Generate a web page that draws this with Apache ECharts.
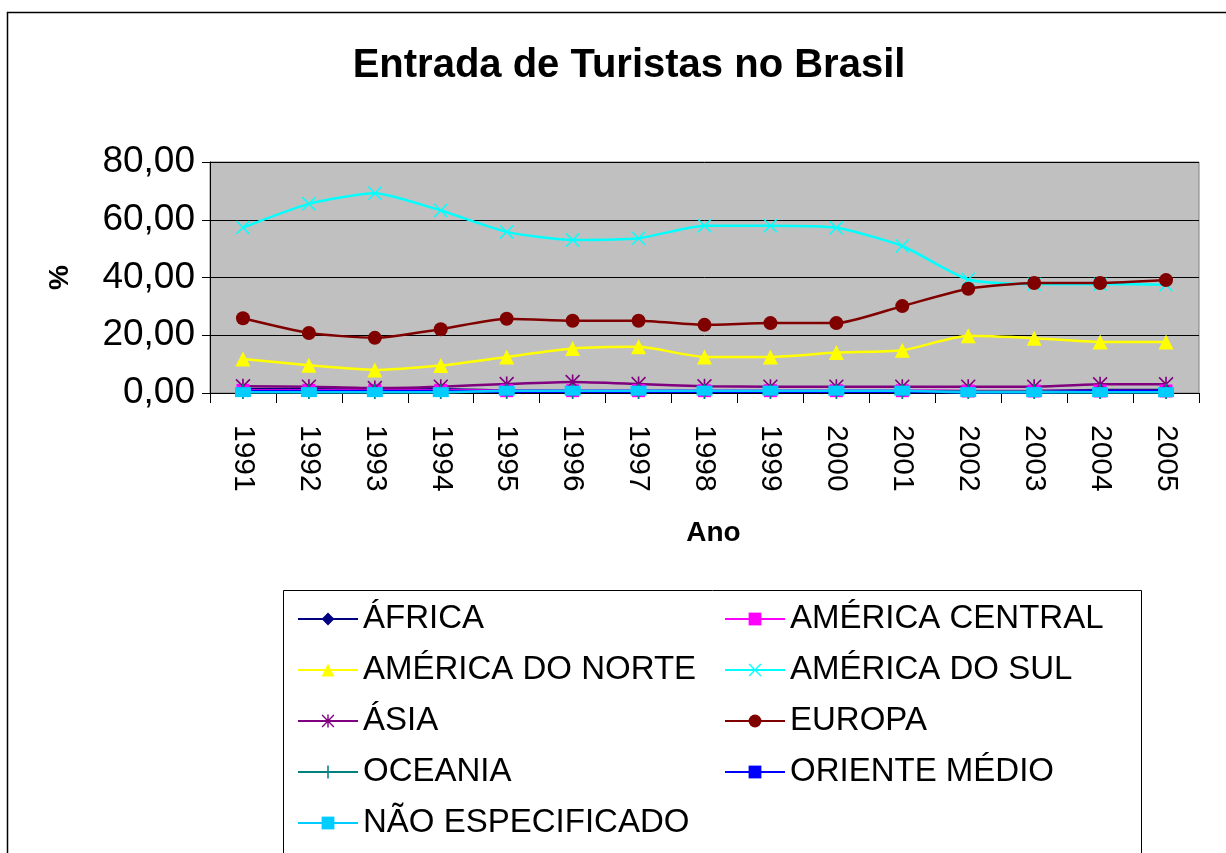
<!DOCTYPE html>
<html>
<head>
<meta charset="utf-8">
<script src="https://cdn.jsdelivr.net/npm/echarts@6/dist/echarts.min.js"></script>
<style>
html,body{margin:0;padding:0;background:#fff;}
#chart{width:1226px;height:853px;}
</style>
</head>
<body>
<div id="chart"></div>
<script>
var years = ['1991','1992','1993','1994','1995','1996','1997','1998','1999','2000','2001','2002','2003','2004','2005'];
var yTicks = [0, 20, 40, 60, 80];

var africa          = [1.3,1.3,1.2,1.3,0.9,0.8,0.8,0.7,0.7,0.7,0.7,0.6,0.7,1.0,1.0];
var americaCentral  = [0.9,0.9,0.9,0.9,0.8,0.8,0.8,0.8,0.8,0.8,0.8,0.7,0.7,0.7,0.7];
var americaNorte    = [11.8,9.6,8.0,9.5,12.5,15.4,16.0,12.5,12.5,14.0,14.8,19.8,19.0,17.7,17.7];
var americaSul      = [57.3,65.5,69.2,63.2,55.8,53.0,53.6,57.9,57.9,57.2,50.9,39.3,37.7,37.7,37.5];
var asia            = [2.3,2.2,1.7,2.2,3.1,3.8,3.1,2.3,2.2,2.2,2.2,2.2,2.2,3.0,3.0];
var europa          = [25.9,20.8,19.1,22.1,25.7,25.0,25.0,23.6,24.2,24.2,30.1,36.1,38.1,38.1,39.1];
var oceania         = [0.5,0.5,0.5,0.5,0.5,0.5,0.5,0.5,0.5,0.5,0.5,0.5,0.5,0.5,0.5];
var orienteMedio    = [0.6,0.6,0.6,0.6,0.4,0.4,0.4,0.4,0.4,0.4,0.4,0.3,0.3,0.6,0.6];
var naoEspecificado = [0.3,0.3,0.3,0.3,0.8,0.8,0.8,0.8,0.8,0.8,0.8,0.3,0.3,0.3,0.3];

var names = ['ÁFRICA','AMÉRICA CENTRAL','AMÉRICA DO NORTE','AMÉRICA DO SUL','ÁSIA','EUROPA','OCEANIA','ORIENTE MÉDIO','NÃO ESPECIFICADO'];
var seriesData = [africa, americaCentral, americaNorte, americaSul, asia, europa, oceania, orienteMedio, naoEspecificado];

var X_PATH = 'path://M0,1.5L1.5,0L20,18.5L18.5,20Z M18.5,0L20,1.5L1.5,20L0,18.5Z';
var AST_PATH = 'path://M0,1.5L1.5,0L20,18.5L18.5,20Z M18.5,0L20,1.5L1.5,20L0,18.5Z M8.9,0H11.1V20H8.9Z';
var PLUS_PATH = 'path://M8.8,0H11.2V8.8H20V11.2H11.2V20H8.8V11.2H0V8.8H8.8Z';

var styles = [
  {color:'#000080', symbol:'diamond', size:10},
  {color:'#FF00FF', symbol:'rect', size:13},
  {color:'#FFFF00', symbol:'triangle', size:15},
  {color:'#00FFFF', symbol:X_PATH, size:14},
  {color:'#800080', symbol:AST_PATH, size:15},
  {color:'#800000', symbol:'circle', size:14},
  {color:'#008080', symbol:PLUS_PATH, size:15},
  {color:'#0000FF', symbol:'rect', size:7},
  {color:'#00CCFF', symbol:'rect', size:[16,10]}
];

var FONT = '"Liberation Sans", Arial, Helvetica, sans-serif';

var series = names.map(function(n, i){
  return {
    name: n,
    type: 'line',
    data: seriesData[i],
    smooth: 0.2,
    symbol: styles[i].symbol,
    symbolSize: styles[i].size,
    showAllSymbol: true,
    lineStyle: {color: styles[i].color, width: 2.5},
    itemStyle: {color: styles[i].color},
    emphasis: {disabled: true},
    animation: false
  };
});

var legendCommon = {
  orient: 'vertical',
  padding: 0,
  itemWidth: 60,
  itemHeight: 16,
  itemGap: 15,
  selectedMode: false,
  textStyle: {fontSize: 33, lineHeight: 36, color: '#000', fontFamily: FONT}
};

var chart = echarts.init(document.getElementById('chart'), null, {renderer: 'canvas'});
chart.setOption({
  backgroundColor: '#fff',
  animation: false,
  title: {
    text: 'Entrada de Turistas no Brasil',
    left: 624,
    textAlign: 'center',
    top: 41,
    textStyle: {fontSize: 40, fontWeight: 'bold', color: '#000', fontFamily: FONT}
  },
  legend: [
    Object.assign({}, legendCommon, {left: 297, top: 601, data: [names[0], names[2], names[4], names[6], names[8]]}),
    Object.assign({}, legendCommon, {left: 724, top: 601, data: [names[1], names[3], names[5], names[7]]})
  ],
  grid: {
    left: 210, right: 27, top: 162, bottom: 460,
    show: true, backgroundColor: '#C0C0C0', borderColor: '#808080', borderWidth: 1
  },
  xAxis: {
    type: 'category',
    data: years,
    boundaryGap: true,
    name: 'Ano',
    nameLocation: 'middle',
    nameGap: 126,
    nameTextStyle: {fontSize: 28, fontWeight: 'bold', color: '#000', fontFamily: FONT, padding: [0, 0, 0, 18]},
    axisLine: {lineStyle: {color: '#000', width: 1}},
    axisTick: {show: true, length: 10, lineStyle: {color: '#000'}, alignWithLabel: false},
    axisLabel: {rotate: -90, margin: 32, fontSize: 30, color: '#000', fontFamily: FONT, interval: 0}
  },
  yAxis: {
    type: 'value',
    min: yTicks[0],
    max: yTicks[yTicks.length - 1],
    interval: yTicks[1] - yTicks[0],
    name: '%',
    nameLocation: 'middle',
    nameGap: 136,
    nameRotate: 90,
    nameTextStyle: {fontSize: 28, fontWeight: 'bold', color: '#000', fontFamily: FONT},
    axisLine: {show: true, lineStyle: {color: '#000', width: 1}},
    axisTick: {show: true, length: 8, lineStyle: {color: '#000'}},
    splitLine: {show: true, lineStyle: {color: '#000', width: 1}},
    axisLabel: {
      margin: 15, fontSize: 37, color: '#000', fontFamily: FONT,
      formatter: function(v){ return v.toFixed(2).replace('.', ','); }
    }
  },
  graphic: [
    {type: 'rect', shape: {x: 7.5, y: 12.5, width: 1300, height: 900}, style: {fill: 'none', stroke: '#000', lineWidth: 1.5}, silent: true, z: -1},
    {type: 'rect', shape: {x: 283.5, y: 590.5, width: 858, height: 300}, style: {fill: 'none', stroke: '#000', lineWidth: 1}, silent: true, z: -1}
  ],
  series: series
});
</script>
</body>
</html>
